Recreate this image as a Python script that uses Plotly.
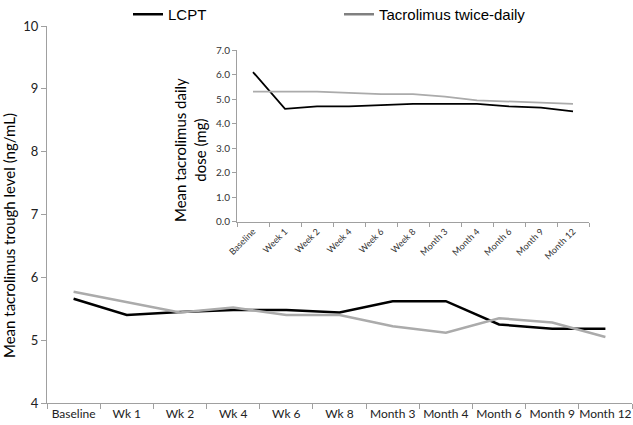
import plotly.graph_objects as go

main_labels = ["Baseline", "Wk 1", "Wk 2", "Wk 4", "Wk 6", "Wk 8",
               "Month 3", "Month 4", "Month 6", "Month 9", "Month 12"]
inset_labels = ["Baseline", "Week 1", "Week 2", "Week 4", "Week 6", "Week 8",
                "Month 3", "Month 4", "Month 6", "Month 9", "Month 12"]

lcpt_trough = [5.66, 5.40, 5.45, 5.48, 5.48, 5.44, 5.62, 5.62, 5.25, 5.18, 5.18]
tac_trough = [5.77, 5.61, 5.44, 5.52, 5.40, 5.40, 5.22, 5.12, 5.35, 5.28, 5.05]

lcpt_dose = [6.1, 4.6, 4.7, 4.7, 4.75, 4.8, 4.8, 4.8, 4.7, 4.65, 4.5]
tac_dose = [5.3, 5.3, 5.3, 5.25, 5.2, 5.2, 5.1, 4.95, 4.9, 4.85, 4.8]

W, H = 633, 425
L, R, T, B = 47, 1, 26, 22
pw, ph = W - L - R, H - T - B

def px_x(x):
    return (x - L) / pw

def px_y(y):
    return (H - B - y) / ph

black = "#000000"
gray = "#ababab"
legend_gray = "#808080"
axis_col = "#a0a0a0"
tick_font = dict(family="Lato, Open Sans, sans-serif", size=12, color="#222222")

fig = go.Figure()
fig.add_trace(go.Scatter(x=main_labels, y=lcpt_trough, mode="lines", name="LCPT",
                         line=dict(color=black, width=2.5), xaxis="x", yaxis="y"))
fig.add_trace(go.Scatter(x=main_labels, y=tac_trough, mode="lines", showlegend=False,
                         name="Tacrolimus twice-daily",
                         line=dict(color=gray, width=2.5), xaxis="x", yaxis="y"))
fig.add_trace(go.Scatter(x=[None], y=[None], mode="lines", name="Tacrolimus twice-daily",
                         line=dict(color=legend_gray, width=2.5), xaxis="x", yaxis="y"))
fig.add_trace(go.Scatter(x=inset_labels, y=lcpt_dose, mode="lines", showlegend=False,
                         line=dict(color=black, width=1.8), xaxis="x2", yaxis="y2"))
fig.add_trace(go.Scatter(x=inset_labels, y=tac_dose, mode="lines", showlegend=False,
                         line=dict(color=gray, width=1.8), xaxis="x2", yaxis="y2"))

fig.update_layout(
    width=W, height=H,
    margin=dict(l=L, r=R, t=T, b=B, autoexpand=False),
    paper_bgcolor="white", plot_bgcolor="white",
    showlegend=True,
    legend=dict(orientation="h", x=px_x(128), y=px_y(-2), xanchor="left", yanchor="top",
                font=dict(family="Liberation Sans, Arial, sans-serif", size=15, color="#000000"),
                entrywidth=166, entrywidthmode="pixels", bgcolor="rgba(0,0,0,0)"),
    xaxis=dict(type="category", tickson="boundaries", ticks="outside", ticklen=5,
               tickcolor=axis_col, showline=True, linecolor=axis_col, linewidth=1,
               showgrid=False, zeroline=False, tickfont=tick_font, domain=[0, 1],
               range=[-0.5, 10.5], tickangle=0, automargin=False),
    yaxis=dict(range=[4, 10], dtick=1, ticks="outside", ticklen=5, tickcolor=axis_col,
               showline=True, linecolor=axis_col, linewidth=1, showgrid=False,
               zeroline=False, tickfont=dict(family="Lato, Open Sans, sans-serif", size=13, color="#222222"),
               domain=[0, 1], automargin=False),
    xaxis2=dict(type="category", tickson="boundaries", ticks="outside", ticklen=4,
                tickcolor=axis_col, showline=True, linecolor=axis_col, linewidth=1,
                showgrid=False, zeroline=False, anchor="y2", automargin=False,
                domain=[px_x(237), px_x(589)], range=[-0.5, 10.5], tickangle=-45,
                tickfont=dict(family="Lato, Open Sans, sans-serif", size=9, color="#333333")),
    yaxis2=dict(range=[0, 7], dtick=1, tickformat=".1f", ticks="outside", ticklen=4,
                tickcolor=axis_col, showline=True, linecolor=axis_col, linewidth=1,
                showgrid=False, zeroline=False, anchor="x2", automargin=False,
                domain=[px_y(221.7), px_y(50)],
                tickfont=dict(family="Lato, Open Sans, sans-serif", size=10, color="#333333")),
    annotations=[
        dict(text="Mean tacrolimus trough level (ng/mL)", textangle=-90,
             x=px_x(9), y=px_y(236), xref="paper", yref="paper",
             xanchor="center", yanchor="middle", showarrow=False,
             font=dict(family="Lato, Open Sans, sans-serif", size=15, color="#000000")),
        dict(text="Mean tacrolimus daily<br>dose (mg)", textangle=-90,
             x=px_x(190), y=px_y(150), xref="paper", yref="paper",
             xanchor="center", yanchor="middle", showarrow=False,
             font=dict(family="Lato, Open Sans, sans-serif", size=15, color="#000000")),
    ],
)

fig.write_html("out.html", config={"displayModeBar": False},
               post_script="document.body.style.margin='0';document.body.style.overflow='hidden';")
